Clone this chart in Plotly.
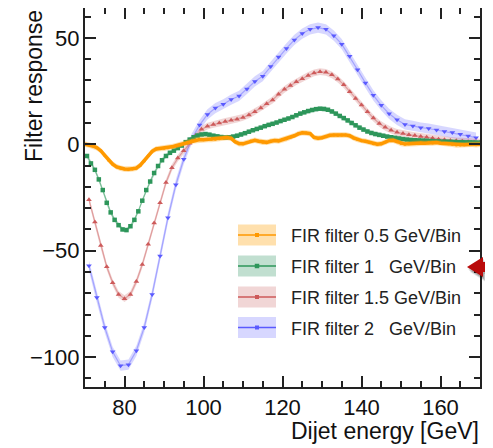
import plotly.graph_objects as go

# ---------------- data ----------------
orange_x = [70 + i for i in range(101)]
orange_y = [0, -0.3, -0.8, -1.6, -3, -5.2, -7.5, -9.3, -10.6, -11.3,
            -11.6, -11.7, -11.6, -11.2, -9.8, -7.8, -5.4, -3.3, -2.2, -2,
            -1.9, -1.6, -1.2, -0.7, -0.2, 0.3, 1, 1.6, 2, 2.2,
            2.1, 2.3, 2.3, 2.4, 2.6, 2.9, 3.2, 2.8, 1.2, 0.3,
            0.2, 0.8, 1.5, 1.9, 1.4, 1.0, 0.9, 1.4, 1.8, 1.6,
            2.2, 2.6, 3.3, 4.0, 4.9, 5.4, 5.3, 5.0, 3.2, 2.8,
            3.1, 3.7, 4.2, 4.4, 4.2, 4.3, 4.4, 4.0, 3.0, 2.2,
            1.7, 1.4, 0.9, 0.3, 0.0, 0.2, 1.0, 1.8, 1.9, 1.2,
            0.4, 0.1, 0.3, 0.5, 0.4, 0.6, 0.5, 0.7, 0.6, 0.8,
            0.5, 0.4, 0.2, 0.0, -0.3, -0.4, -0.2, -0.1, 0.0, -0.2,
            0.0]
orange_err = 1.3

green_x = [70.5 + i for i in range(100)]
green_y = [-5.5, -9, -12, -16.5, -21.5, -27.5, -32, -35.5, -38, -40,
           -40.3, -38.5, -35.5, -31.5, -26.5, -21.5, -17.5, -13.5, -10.2, -7.5,
           -5.5, -4, -3, -1.8, -0.6, 1.0, 2.2, 3.3, 4.1, 4.6,
           4.8, 4.5, 4.0, 3.7, 3.4, 3.2, 3.3, 3.6, 4.0, 4.6,
           5.2, 5.9, 6.6, 7.2, 7.8, 8.5, 9.1, 9.6, 10.2, 10.9,
           11.5, 12.1, 12.8, 13.6, 14.4, 15.0, 15.6, 16.1, 16.5, 16.7,
           16.6, 16.2, 15.4, 14.4, 13.3, 12.3, 11.2, 10.0, 8.9, 7.8,
           6.9, 6.0, 5.3, 4.8, 4.4, 4.0, 3.6, 3.3, 3.0, 2.7,
           2.4, 2.2, 2.0, 1.9, 1.8, 1.7, 1.6, 1.5, 1.4, 1.3,
           1.2, 1.2, 1.1, 1.1, 1.0, 1.0, 0.9, 0.9, 0.8, 0.8]
green_err = 1.0

red_x = [71 + 1.5 * i for i in range(67)]
red_y = [-26, -36.5, -47.5, -57.5, -65, -70.5, -72.5, -70.5, -64.5, -56.5,
         -47, -37, -27.5, -18, -11, -6.5, -3, 0.5, 4, 7,
         8.5, 9.3, 10, 10.7, 11.3, 11.8, 12.6, 13.8, 15.3, 17,
         19, 20.8, 23.5, 25.8, 27.6, 29.4, 30.8, 32.3, 33.5, 34.1,
         33.8, 32.6, 30.6, 28, 24.7, 21.5, 18.5, 15.3, 12.3, 9.8,
         8, 6.6, 5.6, 5, 4.5, 4.1, 3.7, 3.3, 2.8, 2.4,
         2.1, 1.8, 1.6, 1.4, 1.2, 1.1, 1.0]
red_err = 1.6

blue_x = [71 + 2 * i for i in range(50)]
blue_y = [-57, -72, -86, -97.5, -104, -103.5, -97, -86, -70.5, -52.5,
          -34.5, -19, -7, 2.5, 9, 14, 17, 18.8, 21, 22.7,
          26, 29.5, 32, 36.5, 41, 45, 49, 52, 54, 54.8,
          54, 51, 47, 41.3, 35, 28.8, 23, 18.3, 14.3, 11.5,
          9.3, 8.6, 7.8, 7.4, 6.7, 6, 5.5, 4.7, 3.9, 3.1]
blue_err = 2.4

legend_labels = ["FIR filter 0.5 GeV/Bin",
                 "FIR filter 1\u00a0\u00a0\u00a0GeV/Bin",
                 "FIR filter 1.5 GeV/Bin",
                 "FIR filter 2\u00a0\u00a0\u00a0GeV/Bin"]

x_ticks = [80, 100, 120, 140, 160]
y_ticks = [-100, -50, 0, 50]

# ---------------- styles ----------------
OFF = 8  # page body margin
W, H = 485, 440
L, R, T, B = 77, 13, 0, 61
PW, PH = W - L - R, H - T - B
FONT = "Liberation Sans, Arial, sans-serif"

styles = [
    dict(line="rgb(255,153,0)", marker="rgb(255,153,0)", band="rgba(255,165,20,0.35)",
         symbol="circle", msize=3, lw=3.5),
    dict(line="rgba(60,160,100,0.55)", marker="rgb(45,150,90)", band="rgba(50,150,100,0.30)",
         symbol="square", msize=4.5, lw=1.2),
    dict(line="rgba(210,110,110,0.55)", marker="rgb(205,90,90)", band="rgba(200,90,90,0.25)",
         symbol="triangle-up", msize=5, lw=1.2),
    dict(line="rgba(120,120,255,0.55)", marker="rgb(90,90,255)", band="rgba(110,110,255,0.28)",
         symbol="triangle-down", msize=5, lw=1.2),
]

series = [(orange_x, orange_y, orange_err), (green_x, green_y, green_err),
          (red_x, red_y, red_err), (blue_x, blue_y, blue_err)]

fig = go.Figure()
# draw order: blue, red, green, orange
for idx in [3, 2, 1, 0]:
    xs, ys, e = series[idx]
    st = styles[idx]
    bx = list(xs) + list(xs)[::-1]
    by = [v + e for v in ys] + [v - e for v in ys][::-1]
    fig.add_trace(go.Scatter(x=bx, y=by, fill="toself", fillcolor=st["band"],
                             line=dict(width=0), mode="lines", hoverinfo="skip",
                             showlegend=False))
    fig.add_trace(go.Scatter(x=xs, y=ys, mode="lines+markers",
                             line=dict(color=st["line"], width=st["lw"]),
                             marker=dict(symbol=st["symbol"], size=st["msize"],
                                         color=st["marker"], line=dict(width=0)),
                             name=legend_labels[idx], showlegend=False))


def px(xp):  # window pixel -> paper
    return (xp - OFF - L) / PW


def py(yp):
    return (H - B - (yp - OFF)) / PH


shapes = []
annotations = []
# manual legend
leg_y = [235, 266, 297, 327.5]
for i, yc in enumerate(leg_y):
    st = styles[i]
    shapes.append(dict(type="rect", xref="paper", yref="paper",
                       x0=px(238), x1=px(276), y0=py(yc + 10.5), y1=py(yc - 10.5),
                       fillcolor=st["band"], line=dict(width=0), layer="above"))
    shapes.append(dict(type="line", xref="paper", yref="paper",
                       x0=px(238), x1=px(276), y0=py(yc), y1=py(yc),
                       line=dict(color=st["marker"], width=1.5), layer="above"))
    ms = 3 if i != 1 else 3.5
    shapes.append(dict(type="rect", xref="paper", yref="paper",
                       x0=px(257 - ms / 2 - 0.5), x1=px(257 + ms / 2 + 0.5),
                       y0=py(yc + ms / 2 + 0.5), y1=py(yc - ms / 2 - 0.5),
                       fillcolor=st["marker"], line=dict(width=0), layer="above"))
    annotations.append(dict(xref="paper", yref="paper", x=px(289), y=py(yc + 1),
                            text=legend_labels[i], showarrow=False, xanchor="left",
                            yanchor="middle", font=dict(family=FONT, size=18, color="#222")))

# red arrow with soft shadow
def arrow_path(dx, dy):
    pts = [(467, 267), (483, 257), (483, 262), (495, 262),
           (495, 272), (483, 272), (483, 277)]
    s = "M" + " L".join(f"{px(a + dx):.5f},{py(b + dy):.5f}" for a, b in pts) + " Z"
    return s

for k, (dx, dy, op) in enumerate([(3, 5, 0.10), (2, 3.5, 0.13), (1, 2, 0.16)]):
    shapes.append(dict(type="path", xref="paper", yref="paper", path=arrow_path(dx, dy),
                       fillcolor=f"rgba(0,0,0,{op})", line=dict(width=0), layer="above"))
shapes.append(dict(type="path", xref="paper", yref="paper", path=arrow_path(0, 0),
                   fillcolor="rgb(185,10,10)", line=dict(width=0), layer="above"))

# axis titles
annotations.append(dict(xref="paper", yref="paper", x=px(34), y=py(8), text="Filter response",
                        textangle=-90, showarrow=False, xanchor="center", yanchor="top",
                        font=dict(family=FONT, size=23, color="#111")))
annotations.append(dict(xref="paper", yref="paper", x=px(481), y=py(431), text="Dijet energy [GeV]",
                        showarrow=False, xanchor="right", yanchor="middle",
                        font=dict(family=FONT, size=23, color="#111")))

axis_common = dict(showgrid=False, zeroline=False, showline=True, linecolor="#222",
                   linewidth=2, mirror="ticks", ticks="inside", tickcolor="#222",
                   tickwidth=2, ticklen=11,
                   tickfont=dict(family=FONT, size=22, color="#111"))

fig.update_layout(
    width=W, height=H, margin=dict(l=L, r=R, t=T, b=B, autoexpand=False),
    paper_bgcolor="white", plot_bgcolor="white", showlegend=False,
    xaxis=dict(range=[70, 170], tickvals=x_ticks,
               minor=dict(dtick=5, tick0=0, ticks="inside", ticklen=6, tickwidth=1.5,
                          tickcolor="#222"),
               **axis_common),
    yaxis=dict(range=[-114, 64], tickvals=y_ticks,
               minor=dict(dtick=10, tick0=0, ticks="inside", ticklen=6, tickwidth=1.5,
                          tickcolor="#222"),
               ticklabelstandoff=-1,
               **axis_common),
    shapes=shapes, annotations=annotations,
)

fig.write_html("out.html")
